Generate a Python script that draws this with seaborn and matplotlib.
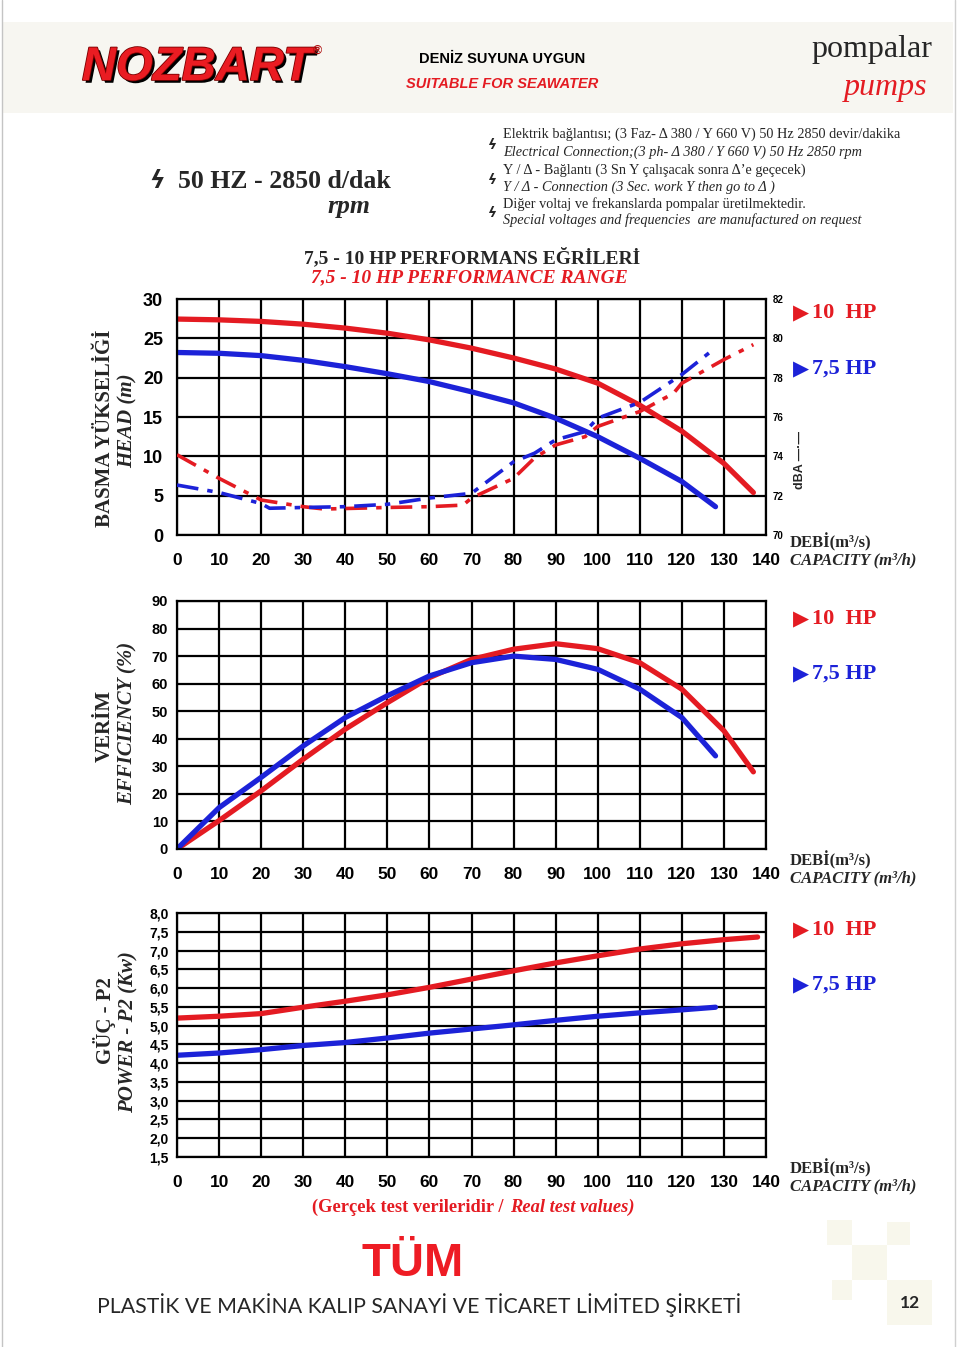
import numpy as np
import pandas as pd
import matplotlib
matplotlib.use("Agg")
import matplotlib.pyplot as plt
import matplotlib.patheffects as pe
from matplotlib.patches import Rectangle
from matplotlib.lines import Line2D
import seaborn as sns

RED = "#e41b22"
BLUE = "#1c22d8"

# capacity ticks (m3/h)
q_ticks = list(range(0, 141, 10))

# head curves (m)
head_q_10 = [0, 10, 20, 30, 40, 50, 60, 70, 80, 90, 100, 110, 120, 130, 137]
head_10 = [27.45, 27.35, 27.15, 26.8, 26.3, 25.65, 24.8, 23.75, 22.5, 21.1, 19.3, 16.5, 13.2, 9.1, 5.4]
head_q_75 = [0, 10, 20, 30, 40, 50, 60, 70, 80, 90, 100, 110, 120, 128]
head_75 = [23.2, 23.1, 22.8, 22.2, 21.4, 20.5, 19.5, 18.2, 16.8, 14.85, 12.5, 9.75, 6.8, 3.6]

# noise curves (dBA)
dba_q_10 = [0, 10, 20, 30, 35, 50, 60, 68, 70, 80, 85, 90, 97, 100, 110, 118, 120, 130, 137]
dba_10 = [74.08, 72.88, 71.78, 71.44, 71.32, 71.4, 71.44, 71.52, 71.88, 72.88, 73.92, 74.58,
          75.0, 75.52, 76.28, 77.2, 77.72, 78.92, 79.68]
dba_q_75 = [0, 10, 20, 22, 30, 40, 50, 60, 70, 80, 85, 90, 97, 100, 110, 120, 128]
dba_75 = [72.54, 72.16, 71.6, 71.36, 71.4, 71.44, 71.56, 71.88, 72.12, 73.72, 74.16, 74.84,
          75.26, 75.94, 76.74, 78.16, 79.52]

# efficiency (%)
eff_q_10 = [0, 10, 20, 30, 40, 50, 60, 70, 80, 90, 100, 110, 120, 130, 137]
eff_10 = [0, 10.3, 21.1, 32.6, 43.5, 53.1, 62.2, 68.8, 72.5, 74.5, 72.7, 67.6, 58.0, 42.9, 28.0]
eff_q_75 = [0, 10, 20, 30, 40, 50, 60, 70, 80, 90, 100, 110, 120, 128]
eff_75 = [0, 15.0, 26.0, 37.4, 47.7, 55.6, 62.8, 67.6, 70.0, 68.8, 65.2, 58.0, 47.7, 33.8]

# power P2 (kW)
pow_q_10 = [0, 10, 20, 30, 40, 50, 60, 70, 80, 90, 100, 110, 120, 130, 138]
pow_10 = [5.2, 5.25, 5.32, 5.49, 5.65, 5.82, 6.02, 6.24, 6.46, 6.67, 6.86, 7.04, 7.18, 7.29, 7.36]
pow_q_75 = [0, 10, 20, 30, 40, 50, 60, 70, 80, 90, 100, 110, 120, 128]
pow_75 = [4.21, 4.27, 4.36, 4.47, 4.55, 4.67, 4.8, 4.91, 5.02, 5.14, 5.25, 5.34, 5.42, 5.49]

head_ticks = [0, 5, 10, 15, 20, 25, 30]
dba_ticks = [70, 72, 74, 76, 78, 80, 82]
eff_ticks = list(range(0, 91, 10))
pow_ticks = [1.5, 2.0, 2.5, 3.0, 3.5, 4.0, 4.5, 5.0, 5.5, 6.0, 6.5, 7.0, 7.5, 8.0]
pow_tick_labels = ["1,5", "2,0", "2,5", "3,0", "3,5", "4,0", "4,5", "5,0", "5,5", "6,0",
                   "6,5", "7,0", "7,5", "8,0"]

sns.set_theme(style="white")
plt.rcParams["font.family"] = ["Liberation Sans", "DejaVu Sans"]
plt.rcParams["font.weight"] = "bold"

W, H = 960, 1347
fig = plt.figure(figsize=(W / 100, H / 100), dpi=100)
fig.patch.set_facecolor("white")


def fx(x):
    return x / W


def fy(y):
    return 1 - y / H


def txt(x, y, s, **kw):
    kw.setdefault("va", "center")
    return fig.text(fx(x), fy(y), s, **kw)


def rect(x0, y0, x1, y1, color):
    fig.patches.append(Rectangle((fx(x0), fy(y1)), fx(x1 - x0), (y1 - y0) / H,
                                 transform=fig.transFigure, facecolor=color,
                                 edgecolor="none", zorder=0))


# page frame and header band
rect(3, 22, 953, 113, "#f7f6f1")
fig.lines.append(Line2D([fx(2), fx(2)], [0, 1], transform=fig.transFigure, color="#c4c4c4", lw=1))
fig.lines.append(Line2D([fx(955), fx(955)], [0, 1], transform=fig.transFigure, color="#cfcfcf", lw=1))

# checker squares bottom right
for x0, y0, x1, y1 in [(827, 1220, 852, 1245), (887, 1222, 910, 1245), (852, 1245, 887, 1280),
                       (832, 1280, 852, 1300), (887, 1280, 932, 1325)]:
    rect(x0, y0, x1, y1, "#f8f7ec")

SERIF = ["Liberation Serif", "DejaVu Serif"]
NARROW = ["Liberation Sans", "DejaVu Sans"]

# header
txt(197, 68, "NOZBART", fontsize=34, fontstyle="italic", color="#ea1c22", ha="center",
    family=["Liberation Sans"], path_effects=[pe.withSimplePatchShadow(offset=(2, -2), shadow_rgbFace="black", alpha=1),
                                              pe.withStroke(linewidth=1.2, foreground="#7a0000")])
txt(317, 51, "®", fontsize=9, color="#b01010", ha="center")
txt(502, 59, "DENİZ SUYUNA UYGUN", fontsize=10.5, family=NARROW, color="black", ha="center")
txt(502, 84, "SUITABLE FOR SEAWATER", fontsize=10.5, family=NARROW, fontstyle="italic", color=RED, ha="center")
txt(932, 50, "pompalar", fontsize=23, family=SERIF, fontweight="normal", ha="right")
txt(928, 88, "pumps", fontsize=23, family=SERIF, fontweight="normal", fontstyle="italic", color=RED, ha="right")

txt(157, 181, "ϟ", fontsize=17, family=["DejaVu Sans"], ha="center", fontstyle="italic")
txt(178, 181, "50 HZ - 2850 d/dak", fontsize=18.5, family=SERIF, ha="left")
txt(349, 206, "rpm", fontsize=18.5, family=SERIF, fontstyle="italic", ha="center")

info_lines = [
    ("Elektrik bağlantısı; (3 Faz- Δ 380 / Y 660 V) 50 Hz 2850 devir/dakika", "normal"),
    ("Electrical Connection;(3 ph- Δ 380 / Y 660 V) 50 Hz 2850 rpm", "italic"),
    ("Y / Δ - Bağlantı (3 Sn Y çalışacak sonra Δ’e geçecek)", "normal"),
    ("Y / Δ - Connection (3 Sec. work Y then go to Δ )", "italic"),
    ("Diğer voltaj ve frekanslarda pompalar üretilmektedir.", "normal"),
    ("Special voltages and frequencies  are manufactured on request", "italic"),
]
for (line, style), yy in zip(info_lines, [134, 152, 170, 187, 204, 220]):
    txt(503, yy, line, fontsize=10.3, family=SERIF, fontweight="normal", fontstyle=style, ha="left")
for yy in [145, 180, 213]:
    txt(492, yy, "ϟ", fontsize=10, family=["DejaVu Sans"], fontstyle="italic", ha="center")

txt(472, 257, "7,5 - 10 HP PERFORMANS EĞRİLERİ", fontsize=14, family=SERIF, ha="center")
txt(469, 278, "7,5 - 10 HP PERFORMANCE RANGE", fontsize=14, family=SERIF, fontstyle="italic",
    color=RED, ha="center")

# axes
left, right = fx(177), fx(766)
ax_h = fig.add_axes([left, fy(535), right - left, (535 - 299) / H])
ax_e = fig.add_axes([left, fy(849), right - left, (849 - 601) / H])
ax_p = fig.add_axes([left, fy(1157), right - left, (1157 - 913) / H])


def style_axes(ax, yticks, ylabels, ysize, ypad):
    ax.set_xlim(0, 140)
    ax.set_ylim(yticks[0], yticks[-1])
    ax.set_xticks(q_ticks)
    ax.set_xticklabels([str(v) for v in q_ticks])
    ax.set_yticks(yticks)
    ax.set_yticklabels(ylabels)
    ax.grid(True, color="black", lw=1.6)
    ax.set_axisbelow(True)
    for sp in ax.spines.values():
        sp.set_visible(True)
        sp.set_color("black")
        sp.set_linewidth(1.6)
    ax.tick_params(axis="x", length=0, pad=13, labelsize=12.5, labelcolor="black")
    ax.tick_params(axis="y", length=0, pad=ypad, labelsize=ysize, labelcolor="black")
    ax.set_xlabel("")
    ax.set_ylabel("")
    ax.set_facecolor("white")


lw = 3.8
sns.lineplot(x=head_q_10, y=head_10, ax=ax_h, color=RED, lw=lw, sort=False, estimator=None)
sns.lineplot(x=head_q_75, y=head_75, ax=ax_h, color=BLUE, lw=lw, sort=False, estimator=None)
style_axes(ax_h, head_ticks, [str(v) for v in head_ticks], 13, 10)

ax_d = ax_h.twinx()
sns.lineplot(x=dba_q_10, y=dba_10, ax=ax_d, color=RED, lw=2.6, sort=False, estimator=None,
             linestyle=(0, (6, 2.5, 1.5, 2.5)))
sns.lineplot(x=dba_q_75, y=dba_75, ax=ax_d, color=BLUE, lw=2.6, sort=False, estimator=None,
             linestyle=(0, (6, 2.5, 1.5, 2.5)))
ax_d.set_ylim(70, 82)
ax_d.set_yticks(dba_ticks)
ax_d.set_yticklabels([str(v) for v in dba_ticks])
ax_d.grid(False)
ax_d.tick_params(axis="y", length=0, pad=5, labelsize=7, labelcolor="black")
ax_d.set_ylabel("")
for sp in ax_d.spines.values():
    sp.set_visible(False)

sns.lineplot(x=eff_q_10, y=eff_10, ax=ax_e, color=RED, lw=lw, sort=False, estimator=None)
sns.lineplot(x=eff_q_75, y=eff_75, ax=ax_e, color=BLUE, lw=lw, sort=False, estimator=None)
style_axes(ax_e, eff_ticks, [str(v) for v in eff_ticks], 10.5, 6.5)

sns.lineplot(x=pow_q_10, y=pow_10, ax=ax_p, color=RED, lw=lw, sort=False, estimator=None)
sns.lineplot(x=pow_q_75, y=pow_75, ax=ax_p, color=BLUE, lw=lw, sort=False, estimator=None)
style_axes(ax_p, pow_ticks, pow_tick_labels, 10, 6)

# axis titles
for (a, b, ya, yb) in [("BASMA YÜKSELİĞİ", "HEAD (m)", 428, 421),
                       ("VERİM", "EFFICIENCY (%)", 726, 723),
                       ("GÜÇ - P2", "POWER - P2 (Kw)", 1021, 1032)]:
    txt(105, ya, a, fontsize=15, family=SERIF, rotation=90, ha="center")
    txt(128, yb, b, fontsize=15, family=SERIF, fontstyle="italic", rotation=90, ha="center")

# legends and capacity labels
for y10, y75, yd in [(313, 369, 542), (619, 674, 860), (930, 985, 1168)]:
    txt(801, y10, "▶", fontsize=15, family=["DejaVu Sans"], color=RED, ha="center")
    txt(812, y10, "10  HP", fontsize=16, family=SERIF, color=RED, ha="left")
    txt(801, y75, "▶", fontsize=15, family=["DejaVu Sans"], color=BLUE, ha="center")
    txt(812, y75, "7,5 HP", fontsize=16, family=SERIF, color=BLUE, ha="left")
    txt(790, yd, "DEBİ(m³/s)", fontsize=12, family=SERIF, ha="left")
    txt(790, yd + 18, "CAPACITY (m³/h)", fontsize=12, family=SERIF, fontstyle="italic", ha="left")

txt(800, 460, "dBA —·—", fontsize=9, rotation=90, ha="center")

txt(508, 1207, "(Gerçek test verileridir / ", fontsize=13.3, family=SERIF, color=RED, ha="right")
txt(510, 1207, "Real test values)", fontsize=13.3, family=SERIF, fontstyle="italic", color=RED, ha="left")

# footer
txt(413, 1264, "TÜM", fontsize=34, family=NARROW, color="#ee1c24", ha="center")
txt(97, 1305, "PLASTİK VE MAKİNA KALIP SANAYİ VE TİCARET LİMİTED ŞİRKETİ", fontsize=15.3,
    family=["Lato", "DejaVu Sans"], fontweight="normal", ha="left")
txt(910, 1303, "12", fontsize=12.5, family=["Lato", "DejaVu Sans"], ha="center")

fig.savefig("out.png", dpi=100)
